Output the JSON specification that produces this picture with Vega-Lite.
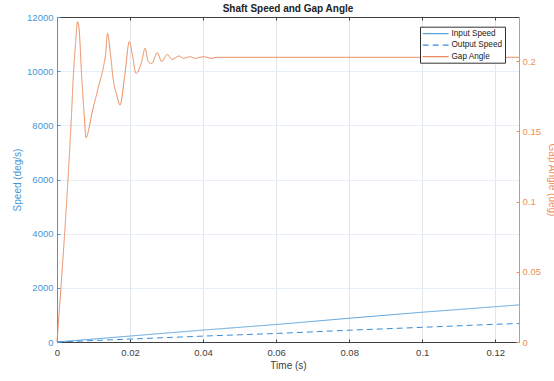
{
  "$schema": "https://vega.github.io/schema/vega-lite/v6.json",
  "autosize": {"type": "none"},
  "width": 462,
  "height": 325,
  "padding": {"left": 57, "top": 17, "right": 35, "bottom": 39},
  "config": {"font": "Liberation Sans", "view": {"stroke": null}},
  "title": {"text": "Shaft Speed and Gap Angle", "fontSize": 10, "fontWeight": "bold", "color": "#222222", "offset": -2},
  "datasets": {
    "speed": [
      {"t": 0, "v": 0, "series": "Input Speed"},
      {"t": 0.02, "v": 220, "series": "Input Speed"},
      {"t": 0.04, "v": 440, "series": "Input Speed"},
      {"t": 0.06, "v": 645, "series": "Input Speed"},
      {"t": 0.08, "v": 877, "series": "Input Speed"},
      {"t": 0.1, "v": 1099, "series": "Input Speed"},
      {"t": 0.1265, "v": 1370, "series": "Input Speed"},
      {"t": 0, "v": 0, "series": "Output Speed"},
      {"t": 0.02, "v": 108, "series": "Output Speed"},
      {"t": 0.04, "v": 218, "series": "Output Speed"},
      {"t": 0.06, "v": 315, "series": "Output Speed"},
      {"t": 0.08, "v": 435, "series": "Output Speed"},
      {"t": 0.1, "v": 542, "series": "Output Speed"},
      {"t": 0.12, "v": 655, "series": "Output Speed"},
      {"t": 0.1265, "v": 682, "series": "Output Speed"}
    ],
    "gap": [
      {"t": 0, "g": 0, "series": "Gap Angle"},
      {"t": 0.00361, "g": 0.1438, "series": "Gap Angle"},
      {"t": 0.00397, "g": 0.1616, "series": "Gap Angle"},
      {"t": 0.00446, "g": 0.1889, "series": "Gap Angle"},
      {"t": 0.00512, "g": 0.2138, "series": "Gap Angle"},
      {"t": 0.00561, "g": 0.2281, "series": "Gap Angle"},
      {"t": 0.00602, "g": 0.2236, "series": "Gap Angle"},
      {"t": 0.00676, "g": 0.1889, "series": "Gap Angle"},
      {"t": 0.00748, "g": 0.1604, "series": "Gap Angle"},
      {"t": 0.00794, "g": 0.1455, "series": "Gap Angle"},
      {"t": 0.0087, "g": 0.1515, "series": "Gap Angle"},
      {"t": 0.0095, "g": 0.162, "series": "Gap Angle"},
      {"t": 0.01131, "g": 0.1811, "series": "Gap Angle"},
      {"t": 0.01287, "g": 0.1979, "series": "Gap Angle"},
      {"t": 0.01328, "g": 0.2043, "series": "Gap Angle"},
      {"t": 0.01383, "g": 0.2197, "series": "Gap Angle"},
      {"t": 0.01451, "g": 0.2079, "series": "Gap Angle"},
      {"t": 0.01542, "g": 0.1865, "series": "Gap Angle"},
      {"t": 0.01635, "g": 0.1759, "series": "Gap Angle"},
      {"t": 0.01725, "g": 0.1687, "series": "Gap Angle"},
      {"t": 0.01862, "g": 0.1913, "series": "Gap Angle"},
      {"t": 0.0198, "g": 0.2138, "series": "Gap Angle"},
      {"t": 0.02073, "g": 0.2031, "series": "Gap Angle"},
      {"t": 0.02163, "g": 0.1912, "series": "Gap Angle"},
      {"t": 0.02319, "g": 0.1996, "series": "Gap Angle"},
      {"t": 0.0241, "g": 0.2091, "series": "Gap Angle"},
      {"t": 0.025, "g": 0.1996, "series": "Gap Angle"},
      {"t": 0.02593, "g": 0.1983, "series": "Gap Angle"},
      {"t": 0.02746, "g": 0.206, "series": "Gap Angle"},
      {"t": 0.02867, "g": 0.1997, "series": "Gap Angle"},
      {"t": 0.0302, "g": 0.2047, "series": "Gap Angle"},
      {"t": 0.03141, "g": 0.2013, "series": "Gap Angle"},
      {"t": 0.03349, "g": 0.2036, "series": "Gap Angle"},
      {"t": 0.03464, "g": 0.2019, "series": "Gap Angle"},
      {"t": 0.03642, "g": 0.2031, "series": "Gap Angle"},
      {"t": 0.03779, "g": 0.202, "series": "Gap Angle"},
      {"t": 0.04011, "g": 0.2031, "series": "Gap Angle"},
      {"t": 0.04236, "g": 0.202, "series": "Gap Angle"},
      {"t": 0.04381, "g": 0.2027, "series": "Gap Angle"},
      {"t": 0.1265, "g": 0.2027, "series": "Gap Angle"}
    ]
  },
  "layer": [
    {
      "data": {"name": "speed"},
      "mark": {"type": "line", "strokeWidth": 1},
      "encoding": {
        "x": {
          "field": "t", "type": "quantitative",
          "scale": {"domain": [0, 0.1265], "nice": false, "zero": false},
          "axis": {
            "orient": "bottom", "values": [0, 0.02, 0.04, 0.06, 0.08, 0.1, 0.12], "format": "~g",
            "labelFontSize": 9.5, "labelColor": "#404040", "domainColor": "#404040", "tickColor": "#404040",
            "tickSize": -3, "labelPadding": 8, "labelFlush": false,
            "grid": true, "gridColor": "#e2e6eb",
            "title": "Time (s)", "titleFontSize": 10, "titleFontWeight": "normal", "titleColor": "#404040", "titlePadding": 4
          }
        },
        "y": {
          "field": "v", "type": "quantitative",
          "scale": {"domain": [0, 12000], "nice": false},
          "axis": {
            "orient": "left", "values": [0, 2000, 4000, 6000, 8000, 10000, 12000], "format": "d",
            "labelFontSize": 9.5, "labelColor": "#4996d8", "domainColor": "#4996d8", "tickColor": "#4996d8",
            "tickSize": -3, "labelPadding": 7,
            "grid": true, "gridColor": "#e6eef7",
            "title": "Speed (deg/s)", "titleFontSize": 10, "titleFontWeight": "normal", "titleColor": "#4996d8", "titlePadding": 4
          }
        },
        "color": {
          "field": "series", "type": "nominal",
          "scale": {"domain": ["Input Speed", "Output Speed", "Gap Angle"], "range": ["#5ba4de", "#3b8ed6", "#ea8a5c"]},
          "legend": {
            "title": null, "orient": "none", "legendX": 363, "legendY": 9.7,
            "fillColor": "white", "strokeColor": "#333333", "padding": 2,
            "labelFontSize": 8.2, "labelColor": "#222222", "symbolType": "M-1,0L5,0", "symbolSize": 75,
            "symbolStrokeWidth": 1.3, "labelOffset": 19.5, "rowPadding": 2.5
          }
        },
        "strokeDash": {
          "field": "series", "type": "nominal",
          "scale": {"domain": ["Input Speed", "Output Speed", "Gap Angle"], "range": [[1, 0], [6, 4], [1, 0]]},
          "legend": {
            "title": null, "orient": "none", "legendX": 363, "legendY": 9.7,
            "fillColor": "white", "strokeColor": "#333333", "padding": 2,
            "labelFontSize": 8.2, "labelColor": "#222222", "symbolType": "M-1,0L5,0", "symbolSize": 75,
            "symbolStrokeWidth": 1.3, "labelOffset": 19.5, "rowPadding": 2.5
          }
        }
      }
    },
    {
      "data": {"name": "gap"},
      "mark": {"type": "line", "strokeWidth": 1, "interpolate": "monotone"},
      "encoding": {
        "x": {
          "field": "t", "type": "quantitative",
          "scale": {"domain": [0, 0.1265], "nice": false, "zero": false},
          "axis": {
            "orient": "top", "values": [0, 0.02, 0.04, 0.06, 0.08, 0.1, 0.12], "labels": false,
            "domainColor": "#404040", "tickColor": "#404040", "tickSize": -3, "grid": false, "title": null
          }
        },
        "y": {
          "field": "g", "type": "quantitative",
          "scale": {"domain": [0, 0.2314], "nice": false},
          "axis": {
            "orient": "right", "values": [0, 0.05, 0.1, 0.15, 0.2], "format": "~g",
            "labelFontSize": 9.5, "labelColor": "#ee8e5e", "domainColor": "#ee8e5e", "tickColor": "#ee8e5e",
            "tickSize": -3, "labelPadding": 6, "grid": false,
            "title": "Gap Angle (deg)", "titleFontSize": 10, "titleFontWeight": "normal", "titleColor": "#ee8e5e", "titlePadding": 6
          }
        },
        "color": {"field": "series", "type": "nominal"},
        "strokeDash": {"field": "series", "type": "nominal"}
      }
    }
  ],
  "resolve": {"scale": {"y": "independent"}, "axis": {"x": "independent"}}
}
